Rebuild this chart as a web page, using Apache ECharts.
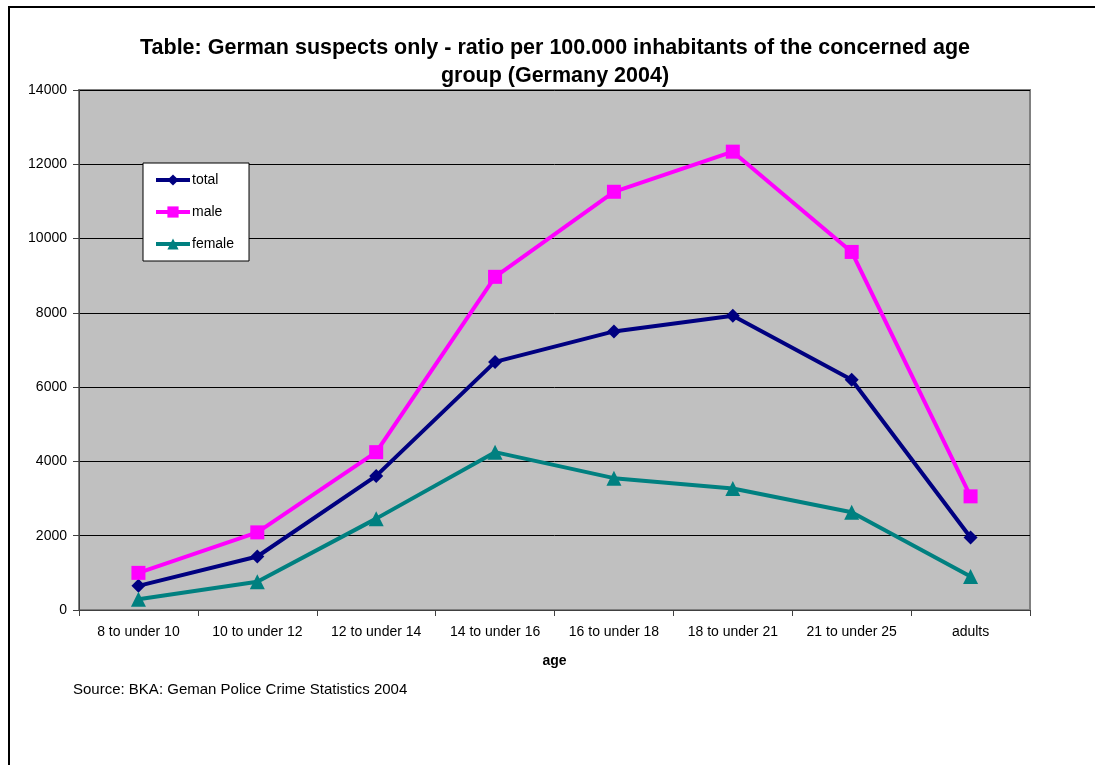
<!DOCTYPE html>
<html>
<head>
<meta charset="utf-8">
<script src="https://cdn.jsdelivr.net/npm/echarts@6/dist/echarts.min.js"></script>
<style>
  html, body { margin: 0; padding: 0; background: #ffffff; }
  #chart { width: 1095px; height: 765px; }
</style>
</head>
<body>
<div id="chart"></div>
<script>
// Age groups on the category axis
const ageGroups = ['8 to under 10', '10 to under 12', '12 to under 14', '14 to under 16',
                   '16 to under 18', '18 to under 21', '21 to under 25', 'adults'];

// Suspects per 100,000 inhabitants of each age group
const totalValues  = [650, 1440, 3610, 6680, 7500, 7920, 6200, 1950];
const maleValues   = [1000, 2090, 4250, 8970, 11260, 12340, 9640, 3060];
const femaleValues = [290, 760, 2460, 4250, 3550, 3270, 2630, 900];

const yTicks = { min: 0, max: 14000, interval: 2000 };

const FONT = '"Liberation Sans", Arial, sans-serif';

const chart = echarts.init(document.getElementById('chart'), null, { renderer: 'canvas' });

function lineSeries(name, data, color, symbol, size) {
  return {
    name: name,
    type: 'line',
    data: data,
    symbol: symbol,
    symbolSize: size,
    showAllSymbol: true,
    lineStyle: { color: color, width: 4 },
    itemStyle: { color: color, borderWidth: 0 },
    emphasis: { disabled: true },
    animation: false
  };
}

chart.setOption({
  animation: false,
  backgroundColor: '#ffffff',
  textStyle: { fontFamily: FONT },
  grid: {
    left: 79, right: 65, top: 90, bottom: 155,
    show: true,
    backgroundColor: '#c0c0c0',
    borderColor: '#808080',
    borderWidth: 2
  },
  legend: {
    orient: 'vertical',
    left: 143, top: 163,
    padding: [10, 15, 10, 11],
    backgroundColor: '#ffffff',
    borderColor: '#000000',
    borderWidth: 1,
    itemWidth: 34,
    itemHeight: 14,
    itemGap: 18,
    lineStyle: { width: 4 },
    textStyle: { fontFamily: FONT, fontSize: 14, color: '#000000', padding: [0, 0, 0, -3] },
    data: ['total', 'male', 'female']
  },
  xAxis: {
    type: 'category',
    data: ageGroups,
    boundaryGap: true,
    name: 'age',
    nameLocation: 'middle',
    nameGap: 44,
    nameTextStyle: { fontFamily: FONT, fontSize: 14, fontWeight: 'bold', color: '#000000' },
    axisLine: { show: true, lineStyle: { color: '#404040', width: 1 } },
    axisTick: { show: true, inside: false, length: 6, lineStyle: { color: '#404040' } },
    axisLabel: { fontFamily: FONT, fontSize: 14, color: '#000000', margin: 15, interval: 0 },
    splitLine: { show: false }
  },
  yAxis: {
    type: 'value',
    min: yTicks.min, max: yTicks.max, interval: yTicks.interval,
    axisLine: { show: true, lineStyle: { color: '#404040', width: 1 } },
    axisTick: { show: true, inside: false, length: 6, lineStyle: { color: '#404040' } },
    axisLabel: { fontFamily: FONT, fontSize: 14, color: '#000000', margin: 12,
                 formatter: function (v) { return String(v); } },
    splitLine: { show: true, lineStyle: { color: '#000000', width: 1 } }
  },
  series: [
    lineSeries('total', totalValues, '#000080', 'diamond', 14),
    lineSeries('male', maleValues, '#ff00ff', 'rect', 14),
    lineSeries('female', femaleValues, '#008080', 'triangle', 15)
  ],
  graphic: [
    {
      type: 'rect',
      silent: true,
      z: 100,
      shape: { x: 9, y: 7, width: 1300, height: 1000 },
      style: { fill: 'none', stroke: '#000000', lineWidth: 2 }
    },
    {
      type: 'text',
      silent: true,
      x: 555, y: 34,
      style: {
        text: 'Table: German suspects only - ratio per 100.000 inhabitants of the concerned age\ngroup (Germany 2004)',
        fontFamily: FONT, fontSize: 21.5, fontWeight: 'bold', fill: '#000000',
        textAlign: 'center', textVerticalAlign: 'top', lineHeight: 28
      }
    },
    {
      type: 'text',
      silent: true,
      x: 73, y: 690,
      style: {
        text: 'Source: BKA: Geman Police Crime Statistics 2004',
        fontFamily: FONT, fontSize: 15, fill: '#000000',
        textAlign: 'left', textVerticalAlign: 'middle'
      }
    }
  ]
});
</script>
</body>
</html>
